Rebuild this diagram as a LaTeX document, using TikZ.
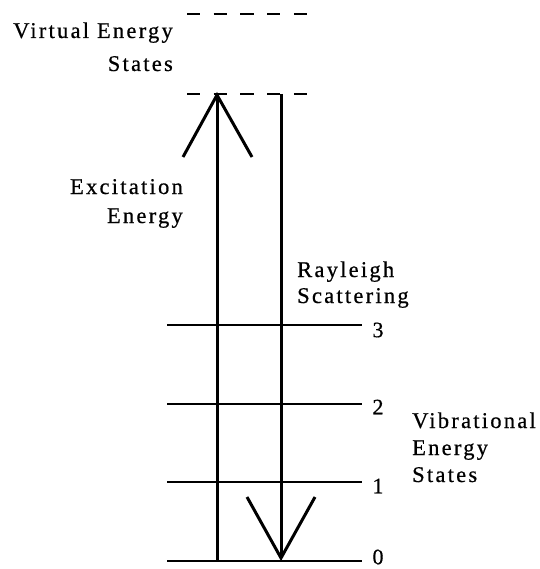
\documentclass[tikz,border=0pt]{standalone}
\usepackage{fontspec}
\setmainfont{Liberation Serif}[LetterSpace=10,FakeBold=0.6]
\begin{document}
\begin{tikzpicture}[x=1pt,y=-1pt,
  lvl/.style={line width=2pt},
  arr/.style={line width=3pt, line join=miter},
  dsh/.style={line width=2pt, dash pattern=on 13.3pt off 13.4pt},
  lab/.style={inner sep=0pt, font=\fontsize{22.5}{27}\selectfont},
  num/.style={inner sep=0pt, font=\fontsize{22}{25}\selectfont}]
\useasboundingbox (0,0) rectangle (539,569);
% virtual states (dashed)
\coordinate (t1a) at (187,14); \coordinate (t1b) at (307,14);
\coordinate (t2a) at (187,94); \coordinate (t2b) at (307,94);
\draw[dsh] (t1a) -- (t1b);
\draw[dsh] (t2a) -- (t2b);
% vibrational levels
\foreach \n/\y/\d in {0/561/-4,1/482/4,2/404/3,3/325/5}{
  \coordinate (l\n a) at (167,\y);
  \coordinate (l\n b) at (362,\y);
  \node[num] (n\n) at (378,\y+\d) {\n};
  \draw[lvl] (l\n a) -- (l\n b);
}
% excitation arrow (up)
\coordinate (ua0) at (217,561); \coordinate (ua1) at (217,95);
\coordinate (uhl) at (183,157); \coordinate (uhr) at (252,157);
\draw[arr] (ua0) -- (ua1);
\draw[arr] (uhl) -- (ua1) -- (uhr);
% Rayleigh arrow (down)
\coordinate (da0) at (281,94); \coordinate (da1) at (281,558);
\coordinate (dhl) at (247,497); \coordinate (dhr) at (315,497);
\draw[arr] (da0) -- (da1);
\draw[arr] (dhl) -- (da1) -- (dhr);
% labels
\node[lab, anchor=base east] (virt1) at (173,38) {Virtual Energy};
\node[lab, anchor=base east] (virt2) at (173,71) {States};
\node[lab, anchor=base east] (exc1) at (183,194) {Excitation};
\node[lab, anchor=base east] (exc2) at (183,223) {Energy};
\node[lab, anchor=base west] (ray1) at (297,277) {Rayleigh};
\node[lab, anchor=base west] (ray2) at (297,303) {Scattering};
\node[lab, anchor=base west] (vib1) at (412,428) {Vibrational};
\node[lab, anchor=base west] (vib2) at (412,455) {Energy};
\node[lab, anchor=base west] (vib3) at (412,482) {States};
\end{tikzpicture}
\end{document}
